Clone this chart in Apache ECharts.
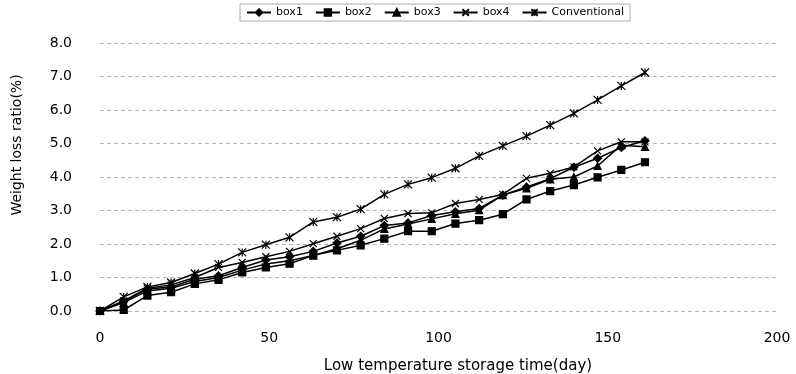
<!DOCTYPE html>
<html><head><meta charset="utf-8">
<script src="https://cdn.jsdelivr.net/npm/echarts@6/dist/echarts.min.js"></script>
<style>html,body{margin:0;padding:0;background:#fff}#c{width:796px;height:374px}</style>
</head><body><div id="c"></div>
<script>
var days = [0,7,14,21,28,35,42,49,56,63,70,77,84,91,98,105,112,119,126,133,140,147,154,161];
var box1 = [0,0.28,0.66,0.72,0.95,1.05,1.3,1.52,1.62,1.78,2.03,2.23,2.55,2.63,2.85,2.96,3.06,3.46,3.7,3.95,4.29,4.56,4.88,5.08];
var box2 = [0,0.03,0.46,0.56,0.81,0.93,1.15,1.3,1.41,1.66,1.81,1.96,2.16,2.38,2.38,2.61,2.71,2.89,3.33,3.58,3.76,3.99,4.21,4.44];
var box3 = [0,0.25,0.6,0.68,0.88,1.0,1.22,1.4,1.5,1.66,1.86,2.11,2.45,2.6,2.75,2.9,3.01,3.46,3.66,3.93,4.0,4.33,4.95,4.9];
var box4 = [0,0.3,0.68,0.78,1.0,1.3,1.45,1.62,1.78,2.01,2.23,2.46,2.76,2.91,2.93,3.21,3.33,3.48,3.96,4.11,4.3,4.78,5.05,5.05];
var conventional = [0,0.42,0.72,0.85,1.12,1.4,1.75,1.98,2.2,2.66,2.8,3.04,3.48,3.78,3.98,4.26,4.63,4.93,5.22,5.55,5.9,6.3,6.72,7.12];
var seriesNames = ['box1','box2','box3','box4','Conventional'];
var xTitle = 'Low temperature storage time(day)';
var yTitle = 'Weight loss ratio(%)';

function pairs(v){ return days.map(function(d,i){ return [d, v[i]]; }); }
var crossPath = 'path://M0,0L10,10M10,0L0,10';
var starPath = 'path://M0,0L10,10M10,0L0,10M5,0L5,10';
var defs = [
  {name: seriesNames[0], data: box1, symbol: 'diamond', size: 8},
  {name: seriesNames[1], data: box2, symbol: 'rect', size: 7},
  {name: seriesNames[2], data: box3, symbol: 'triangle', size: 7},
  {name: seriesNames[3], data: box4, symbol: crossPath, size: 7},
  {name: seriesNames[4], data: conventional, symbol: starPath, size: 8}
];
var series = defs.map(function(s){
  return {
    type: 'line', name: s.name, data: pairs(s.data),
    symbol: s.symbol, symbolSize: s.size, showSymbol: true,
    lineStyle: {color: '#000', width: 1.5},
    itemStyle: {color: '#000', borderColor: '#000', borderWidth: 1.2},
    animation: false
  };
});
var chart = echarts.init(document.getElementById('c'), null, {renderer: 'canvas'});
chart.setOption({
  backgroundColor: '#fff',
  animation: false,
  grid: {left: 100, right: 19, top: 43, bottom: 63},
  legend: {
    left: 240, top: 4, padding: [3, 6, 3, 6],
    borderColor: '#aaa', borderWidth: 1,
    itemWidth: 24, itemHeight: 8, itemGap: 12,
    textStyle: {fontSize: 11, color: '#000', fontFamily: 'DejaVu Sans'},
    data: seriesNames
  },
  xAxis: {
    type: 'value', min: 0, max: 200, interval: 50,
    axisLine: {show: false}, axisTick: {show: false},
    splitLine: {show: false},
    axisLabel: {color: '#000', fontSize: 14, margin: 20, fontFamily: 'DejaVu Sans'}
  },
  yAxis: {
    type: 'value', min: 0, max: 8, interval: 1,
    axisLine: {show: false}, axisTick: {show: false},
    splitLine: {show: true, lineStyle: {color: '#b5b5b5', type: [4, 3], width: 1}},
    axisLabel: {color: '#000', fontSize: 14, margin: 28, fontFamily: 'DejaVu Sans',
      formatter: function(v){ return v.toFixed(1); }}
  },
  graphic: [
    {type: 'text', x: 458, y: 366,
      style: {text: xTitle, fontSize: 15, fill: '#000', fontFamily: 'DejaVu Sans', align: 'center', verticalAlign: 'middle'}},
    {type: 'text', x: 17, y: 145, rotation: Math.PI / 2,
      style: {text: yTitle, fontSize: 14, fill: '#000', fontFamily: 'DejaVu Sans', align: 'center', verticalAlign: 'middle'}}
  ],
  series: series
});
</script></body></html>
